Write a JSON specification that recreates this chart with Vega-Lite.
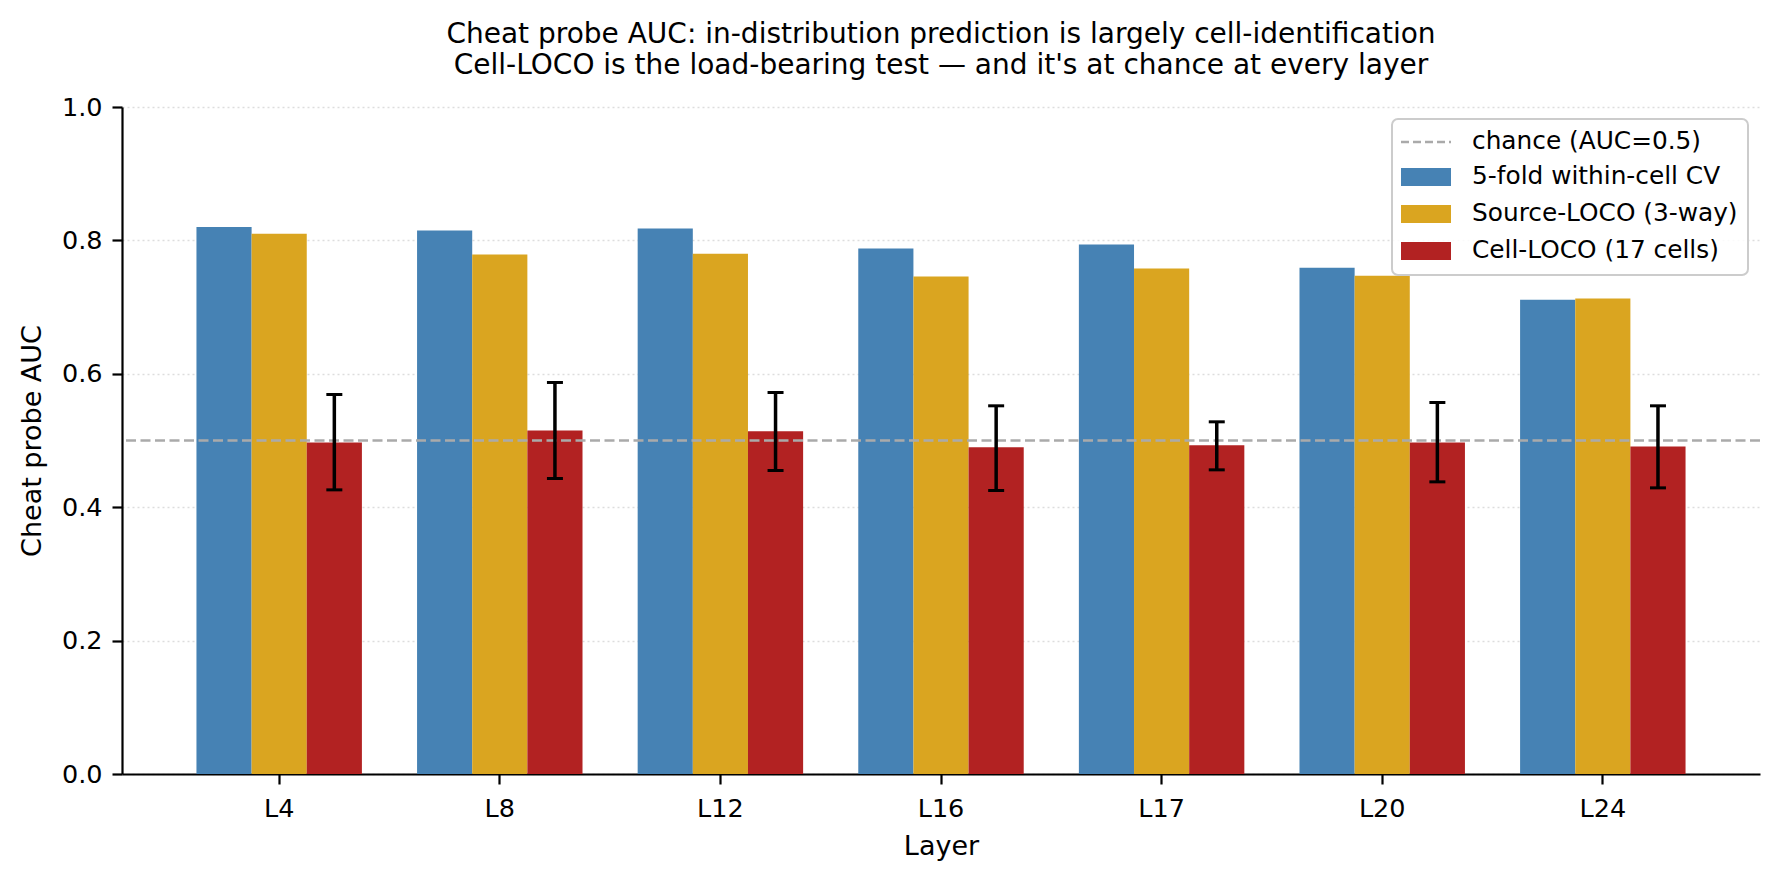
{
  "$schema": "https://vega.github.io/schema/vega-lite/v6.json",
  "width": 1638,
  "height": 667,
  "autosize": {"type": "none"},
  "padding": {"left": 122, "top": 107, "right": 20, "bottom": 107},
  "background": "white",
  "title": {
    "text": [
      "Cheat probe AUC: in-distribution prediction is largely cell-identification",
      "Cell-LOCO is the load-bearing test — and it's at chance at every layer"
    ],
    "anchor": "middle",
    "frame": "group",
    "offset": 15
  },
  "datasets": {
    "auc": [
      {"layer": "L4", "series": "5-fold within-cell CV", "value": 0.820},
      {"layer": "L4", "series": "Source-LOCO (3-way)", "value": 0.810},
      {"layer": "L4", "series": "Cell-LOCO (17 cells)", "value": 0.497, "lo": 0.426, "hi": 0.569},
      {"layer": "L8", "series": "5-fold within-cell CV", "value": 0.815},
      {"layer": "L8", "series": "Source-LOCO (3-way)", "value": 0.779},
      {"layer": "L8", "series": "Cell-LOCO (17 cells)", "value": 0.515, "lo": 0.443, "hi": 0.587},
      {"layer": "L12", "series": "5-fold within-cell CV", "value": 0.818},
      {"layer": "L12", "series": "Source-LOCO (3-way)", "value": 0.780},
      {"layer": "L12", "series": "Cell-LOCO (17 cells)", "value": 0.514, "lo": 0.455, "hi": 0.572},
      {"layer": "L16", "series": "5-fold within-cell CV", "value": 0.788},
      {"layer": "L16", "series": "Source-LOCO (3-way)", "value": 0.746},
      {"layer": "L16", "series": "Cell-LOCO (17 cells)", "value": 0.490, "lo": 0.425, "hi": 0.552},
      {"layer": "L17", "series": "5-fold within-cell CV", "value": 0.794},
      {"layer": "L17", "series": "Source-LOCO (3-way)", "value": 0.758},
      {"layer": "L17", "series": "Cell-LOCO (17 cells)", "value": 0.493, "lo": 0.456, "hi": 0.528},
      {"layer": "L20", "series": "5-fold within-cell CV", "value": 0.759},
      {"layer": "L20", "series": "Source-LOCO (3-way)", "value": 0.747},
      {"layer": "L20", "series": "Cell-LOCO (17 cells)", "value": 0.497, "lo": 0.438, "hi": 0.557},
      {"layer": "L24", "series": "5-fold within-cell CV", "value": 0.711},
      {"layer": "L24", "series": "Source-LOCO (3-way)", "value": 0.713},
      {"layer": "L24", "series": "Cell-LOCO (17 cells)", "value": 0.491, "lo": 0.429, "hi": 0.552}
    ],
    "chance": [{"chance": 0.5}]
  },
  "layer": [
    {
      "data": {"name": "auc"},
      "mark": {"type": "bar"},
      "encoding": {
        "x": {
          "field": "layer",
          "type": "nominal",
          "sort": ["L4", "L8", "L12", "L16", "L17", "L20", "L24"],
          "scale": {"paddingInner": 0, "paddingOuter": 0.2125},
          "title": "Layer",
          "axis": {
            "labelAngle": 0,
            "labelPadding": 12.5,
            "titlePadding": 11.5,
            "tickSize": 10
          }
        },
        "xOffset": {
          "field": "series",
          "type": "nominal",
          "scale": {
            "domain": ["5-fold within-cell CV", "Source-LOCO (3-way)", "Cell-LOCO (17 cells)"],
            "paddingInner": 0,
            "paddingOuter": 0.5
          }
        },
        "y": {
          "field": "value",
          "type": "quantitative",
          "scale": {"domain": [0, 1], "nice": false},
          "title": "Cheat probe AUC",
          "axis": {
            "values": [0, 0.2, 0.4, 0.6, 0.8, 1.0],
            "format": ".1f",
            "grid": true,
            "gridColor": "#dddddd",
            "gridDash": [2, 3],
            "gridWidth": 1.5,
            "tickSize": 10,
            "labelPadding": 10,
            "titlePadding": 15
          }
        },
        "color": {
          "field": "series",
          "type": "nominal",
          "scale": {
            "domain": ["chance (AUC=0.5)", "5-fold within-cell CV", "Source-LOCO (3-way)", "Cell-LOCO (17 cells)"],
            "range": ["#aaaaaa", "#4682B4", "#DAA520", "#B22222"]
          },
          "legend": {
            "title": null,
            "orient": "top-right",
            "offset": 12,
            "fillColor": "rgba(255,255,255,0.85)",
            "strokeColor": "#cccccc",
            "cornerRadius": 6,
            "padding": 9.5,
            "rowPadding": 8,
            "labelFont": "DejaVu Sans",
            "labelFontSize": 24.8,
            "labelColor": "black",
            "labelLimit": 400,
            "labelOffset": 32.5,
            "symbolSize": 576,
            "symbolOffset": 11,
            "symbolType": "M-2.0833,-0.75H2.0833V0.75H-2.0833Z",
            "encode": {
              "legend": {
                "update": {"strokeWidth": {"value": 2}}
              },
              "symbols": {
                "update": {
                  "shape": [
                    {"test": "datum.value === 'chance (AUC=0.5)'", "value": "M-2.0833,0H2.0833"},
                    {"value": "M-2.0833,-0.75H2.0833V0.75H-2.0833Z"}
                  ],
                  "fill": [
                    {"test": "datum.value === 'chance (AUC=0.5)'", "value": "transparent"},
                    {"scale": "color", "field": "value"}
                  ],
                  "stroke": [
                    {"test": "datum.value === 'chance (AUC=0.5)'", "value": "#aaaaaa"},
                    {"value": "transparent"}
                  ],
                  "strokeDash": [
                    {"test": "datum.value === 'chance (AUC=0.5)'", "value": [8, 4]},
                    {"value": []}
                  ],
                  "strokeWidth": {"value": 2.5},
                  "opacity": {"value": 1}
                }
              }
            }
          }
        }
      }
    },
    {
      "data": {"name": "chance"},
      "mark": {"type": "rule", "color": "#aaaaaa", "strokeWidth": 2.5, "strokeDash": [10, 4.5]},
      "encoding": {
        "y": {"field": "chance", "type": "quantitative"}
      }
    },
    {
      "data": {"name": "auc"},
      "transform": [{"filter": "isValid(datum.lo)"}],
      "mark": {"type": "rule", "color": "black", "strokeWidth": 3.5},
      "encoding": {
        "x": {"field": "layer", "type": "nominal", "sort": ["L4", "L8", "L12", "L16", "L17", "L20", "L24"]},
        "xOffset": {"field": "series", "type": "nominal"},
        "y": {"field": "lo", "type": "quantitative"},
        "y2": {"field": "hi"}
      }
    },
    {
      "data": {"name": "auc"},
      "transform": [{"filter": "isValid(datum.lo)"}],
      "mark": {"type": "tick", "color": "black", "size": 16, "thickness": 3, "opacity": 1},
      "encoding": {
        "x": {"field": "layer", "type": "nominal", "sort": ["L4", "L8", "L12", "L16", "L17", "L20", "L24"]},
        "xOffset": {"field": "series", "type": "nominal"},
        "y": {"field": "lo", "type": "quantitative"}
      }
    },
    {
      "data": {"name": "auc"},
      "transform": [{"filter": "isValid(datum.hi)"}],
      "mark": {"type": "tick", "color": "black", "size": 16, "thickness": 3, "opacity": 1},
      "encoding": {
        "x": {"field": "layer", "type": "nominal", "sort": ["L4", "L8", "L12", "L16", "L17", "L20", "L24"]},
        "xOffset": {"field": "series", "type": "nominal"},
        "y": {"field": "hi", "type": "quantitative"}
      }
    }
  ],
  "config": {
    "font": "DejaVu Sans",
    "view": {"stroke": null},
    "title": {
      "font": "DejaVu Sans",
      "fontSize": 28,
      "fontWeight": "normal",
      "color": "black",
      "lineHeight": 31
    },
    "axis": {
      "labelFont": "DejaVu Sans",
      "labelFontSize": 25.5,
      "labelColor": "black",
      "titleFont": "DejaVu Sans",
      "titleFontSize": 27,
      "titleFontWeight": "normal",
      "titleColor": "black",
      "domainColor": "black",
      "domainWidth": 2.2,
      "tickColor": "black",
      "tickWidth": 2.2,
      "grid": false
    }
  }
}
